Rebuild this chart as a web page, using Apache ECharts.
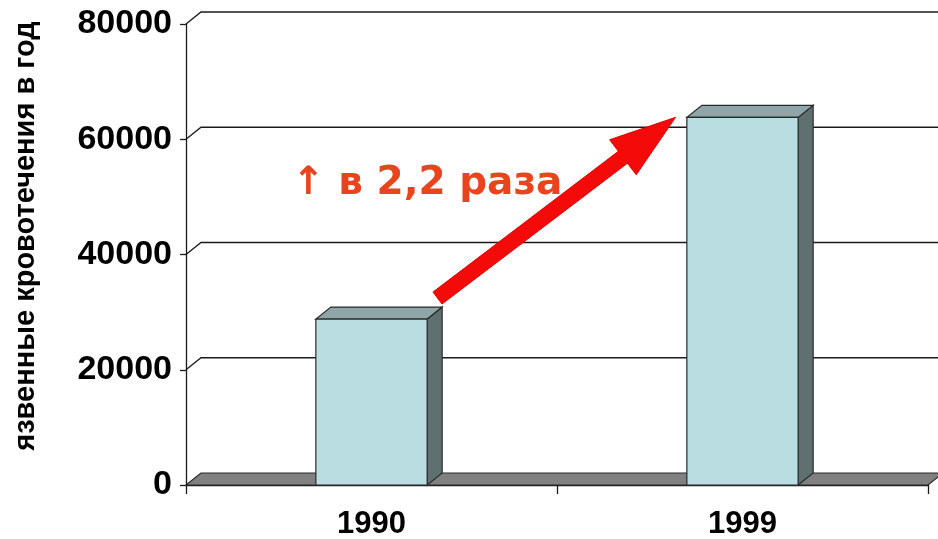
<!DOCTYPE html>
<html>
<head>
<meta charset="utf-8">
<script src="https://cdn.jsdelivr.net/npm/echarts@6/dist/echarts.min.js"></script>
<style>
html,body{margin:0;padding:0;background:#fff;}
#chart{width:938px;height:539px;}
</style>
</head>
<body>
<div id="chart"></div>
<script>
// ---- data ----
const categories = ['1990', '1999'];
const bleedingCases = [28800, 63800];
const yTickValues = [0, 20000, 40000, 60000, 80000];
const yAxisTitle = 'язвенные кровотечения в год';
const growthLabel = '↑ в 2,2 раза';

// ---- style ----
const DX = 15, DY = -12;
const FRONT = '#b9dde1', TOP = '#8ea6a8', SIDE = '#5e7070', EDGE = '#2a2a2a';

const chart = echarts.init(document.getElementById('chart'), null, {renderer: 'canvas'});

function floorItem(params, api) {
  const cs = params.coordSys;
  const y0 = api.coord([0, 0])[1];
  const x0 = cs.x, x1 = cs.x + cs.width;
  return {
    type: 'polygon',
    shape: {points: [[x0, y0], [x1, y0], [x1 + DX, y0 + DY], [x0 + DX, y0 + DY]]},
    style: {fill: '#808080', stroke: EDGE, lineWidth: 1.2}
  };
}

function gridItem(params, api) {
  const cs = params.coordSys;
  const v = api.value(0);
  const y = api.coord([0, v])[1];
  const x0 = cs.x, x1 = cs.x + cs.width;
  return {
    type: 'polyline',
    shape: {points: [[x0, y], [x0 + DX, y + DY], [x1 + DX + 20, y + DY]]},
    style: {stroke: '#1a1a1a', lineWidth: 1.3, fill: null}
  };
}

function barItem(params, api) {
  const i = api.value(0), v = api.value(1);
  const top = api.coord([i, v]);
  const base = api.coord([i, 0]);
  const bw = api.size([1, 0])[0];
  const hw = bw * 0.15;
  const L = top[0] - hw, R = top[0] + hw, T = top[1], B = base[1];
  const st = {stroke: EDGE, lineWidth: 1.2};
  return {
    type: 'group',
    children: [
      {type: 'polygon', shape: {points: [[R, T], [R + DX, T + DY], [R + DX, B + DY], [R, B]]}, style: Object.assign({fill: SIDE}, st)},
      {type: 'polygon', shape: {points: [[L, T], [R, T], [R + DX, T + DY], [L + DX, T + DY]]}, style: Object.assign({fill: TOP}, st)},
      {type: 'rect', shape: {x: L, y: T, width: R - L, height: B - T}, style: Object.assign({fill: FRONT}, st)}
    ]
  };
}

const option = {
  backgroundColor: '#ffffff',
  animation: false,
  grid: {left: 186, right: 10, top: 24, bottom: 54, outerBoundsMode: 'none', containLabel: false},
  xAxis: {
    type: 'category',
    data: categories,
    axisLine: {show: true, lineStyle: {color: '#1a1a1a', width: 1.3}},
    axisTick: {show: true, length: 9, lineStyle: {color: '#1a1a1a', width: 1.3}},
    axisLabel: {color: '#000', fontSize: 31, fontWeight: 'bold', fontFamily: 'Liberation Sans', margin: 24}
  },
  yAxis: {
    type: 'value',
    min: 0, max: 80000, interval: 20000,
    axisLine: {show: true, lineStyle: {color: '#1a1a1a', width: 1.3}},
    axisTick: {show: true, length: 6, lineStyle: {color: '#1a1a1a', width: 1.3}},
    axisLabel: {color: '#000', fontSize: 34, fontWeight: 'bold', fontFamily: 'Liberation Sans', margin: 14,
                formatter: v => String(v)},
    splitLine: {show: false}
  },
  series: [
    {type: 'custom', renderItem: floorItem, data: [[0, 0]], clip: false, z: 1, silent: true},
    {type: 'custom', renderItem: gridItem, data: yTickValues.filter(v => v > 0).map(v => [v]), clip: false, z: 2, silent: true,
     encode: {y: 0}},
    {type: 'custom', renderItem: barItem, data: categories.map((c, i) => [i, bleedingCases[i]]), clip: false, z: 3,
     encode: {x: 0, y: 1}}
  ]
};
chart.setOption(option);

// ---- annotation arrow anchored to the bars ----
const p0 = chart.convertToPixel({gridIndex: 0}, [0, bleedingCases[0]]);
const p1 = chart.convertToPixel({gridIndex: 0}, [1, bleedingCases[1]]);
const tail = [p0[0] + 66, p0[1] - 21];
const tip = [p1[0] - 67, p1[1]];
const ddx = tip[0] - tail[0], ddy = tip[1] - tail[1];
const len = Math.hypot(ddx, ddy);
const u = [ddx / len, ddy / len], n = [-u[1], u[0]];
const sw = 7.5, hl = 66, hwid = 22;
const bc = [tip[0] - u[0] * hl, tip[1] - u[1] * hl];
const pts = [
  [tail[0] + n[0] * sw, tail[1] + n[1] * sw],
  [bc[0] + n[0] * sw, bc[1] + n[1] * sw],
  [bc[0] + n[0] * hwid, bc[1] + n[1] * hwid],
  tip,
  [bc[0] - n[0] * hwid, bc[1] - n[1] * hwid],
  [bc[0] - n[0] * sw, bc[1] - n[1] * sw],
  [tail[0] - n[0] * sw, tail[1] - n[1] * sw]
];

chart.setOption({
  graphic: [
    {type: 'polygon', z: 100, shape: {points: pts}, style: {fill: '#f50a0a', stroke: '#e00000', lineWidth: 1}},
    {type: 'text', z: 101, x: 292, y: 184,
     style: {text: growthLabel, fill: '#e8441d', font: 'bold 39px "DejaVu Sans"', align: 'left', verticalAlign: 'middle'}},
    {type: 'text', z: 101, x: 26, y: 236, rotation: Math.PI / 2,
     style: {text: yAxisTitle, fill: '#000', font: 'bold 29px "Liberation Sans"', align: 'center', verticalAlign: 'middle'}}
  ]
});
</script>
</body>
</html>
